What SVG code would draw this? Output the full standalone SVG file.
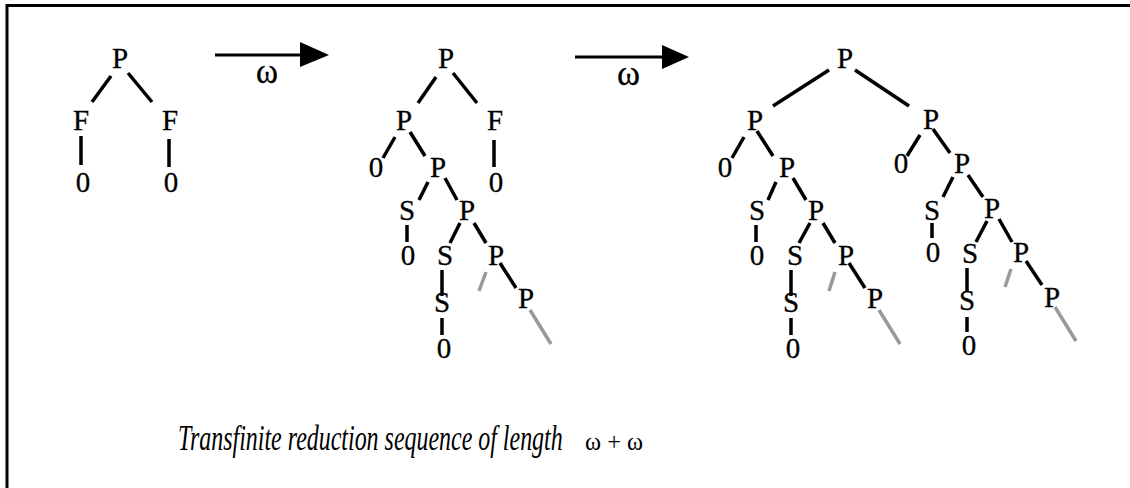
<svg xmlns="http://www.w3.org/2000/svg" width="1130" height="488" viewBox="0 0 1130 488">
<style>
.t{font-family:"Liberation Serif","Times New Roman",serif;font-size:29px;fill:#000;stroke:#000;stroke-width:0.3;text-anchor:middle}
.w{font-family:"Liberation Serif","Times New Roman",serif;font-size:36px;fill:#000;stroke:#000;stroke-width:0.3}
.e{stroke:#000;stroke-width:3.5;fill:none}
.g{stroke:#999;stroke-width:3.5;fill:none}
.a{stroke:#000;stroke-width:3}
</style>
<rect x="0" y="0" width="1130" height="488" fill="#fff"/>
<path d="M7,495 V5.5 H1135" fill="none" stroke="#000" stroke-width="3"/>
<g id="connectors">
<line class="e" x1="111" y1="76" x2="92" y2="102"/>
<line class="e" x1="128" y1="73" x2="152" y2="102"/>
<line class="e" x1="81" y1="136" x2="81" y2="165"/>
<line class="e" x1="169" y1="139" x2="169" y2="167"/>
<line class="e" x1="436" y1="77" x2="418" y2="103"/>
<line class="e" x1="453" y1="73" x2="477" y2="103"/>
<line class="e" x1="395" y1="137" x2="383" y2="158"/>
<line class="e" x1="410" y1="132" x2="425" y2="156"/>
<line class="e" x1="494" y1="140" x2="494" y2="167"/>
<line class="e" x1="428" y1="182" x2="419" y2="200"/>
<line class="e" x1="445" y1="178" x2="457" y2="200"/>
<line class="e" x1="407" y1="225" x2="407" y2="242"/>
<line class="e" x1="460" y1="223" x2="450" y2="243"/>
<line class="e" x1="474" y1="223" x2="486" y2="243"/>
<line class="e" x1="442" y1="270" x2="442" y2="296"/>
<line class="e" x1="442" y1="318" x2="442" y2="335"/>
<line class="g" x1="486" y1="272" x2="479" y2="291"/>
<line class="e" x1="500" y1="263" x2="516" y2="288"/>
<line class="g" x1="530" y1="310" x2="551" y2="344"/>
<line class="e" x1="829" y1="70" x2="773" y2="106"/>
<line class="e" x1="855" y1="70" x2="909" y2="106"/>
<line class="e" x1="744" y1="137" x2="732" y2="158"/>
<line class="e" x1="757" y1="131" x2="773" y2="156"/>
<line class="e" x1="776" y1="182" x2="768" y2="200"/>
<line class="e" x1="793" y1="178" x2="806" y2="200"/>
<line class="e" x1="756" y1="225" x2="756" y2="242"/>
<line class="e" x1="810" y1="223" x2="799" y2="243"/>
<line class="e" x1="823" y1="223" x2="835" y2="243"/>
<line class="e" x1="791" y1="270" x2="791" y2="296"/>
<line class="e" x1="791" y1="318" x2="791" y2="335"/>
<line class="g" x1="835" y1="272" x2="829" y2="291"/>
<line class="e" x1="849" y1="263" x2="865" y2="288"/>
<line class="g" x1="879" y1="310" x2="900" y2="344"/>
<line class="e" x1="920" y1="135" x2="907" y2="156"/>
<line class="e" x1="933" y1="129" x2="950" y2="153"/>
<line class="e" x1="953" y1="177" x2="943" y2="197"/>
<line class="e" x1="968" y1="175" x2="983" y2="197"/>
<line class="e" x1="932" y1="223" x2="932" y2="238"/>
<line class="e" x1="987" y1="221" x2="976" y2="242"/>
<line class="e" x1="999" y1="219" x2="1012" y2="242"/>
<line class="e" x1="967" y1="268" x2="967" y2="292"/>
<line class="e" x1="967" y1="317" x2="967" y2="332"/>
<line class="g" x1="1011" y1="269" x2="1005" y2="287"/>
<line class="e" x1="1026" y1="261" x2="1042" y2="285"/>
<line class="g" x1="1055" y1="307" x2="1076" y2="341"/>
</g>
<g id="arrow1">
<line class="a" x1="215" y1="55" x2="302" y2="55"/>
<polygon points="300,42 329,55 300,67" fill="#000"/>
<text class="w" x="256" y="83" textLength="22" lengthAdjust="spacingAndGlyphs">ω</text>
</g>
<g id="arrow2">
<line class="a" x1="575" y1="57" x2="664" y2="57"/>
<polygon points="662,45 689,57 662,69" fill="#000"/>
<text class="w" x="617" y="85" textLength="23" lengthAdjust="spacingAndGlyphs">ω</text>
</g>
<g id="tree1">
<text class="t" x="120" y="68">P</text>
<text class="t" x="81" y="130">F</text>
<text class="t" x="170" y="130">F</text>
<text class="t" x="83" y="192">0</text>
<text class="t" x="171" y="192">0</text>
</g>
<g id="tree2">
<text class="t" x="446" y="68">P</text>
<text class="t" x="404" y="130">P</text>
<text class="t" x="495" y="130">F</text>
<text class="t" x="376" y="177">0</text>
<text class="t" x="438" y="177">P</text>
<text class="t" x="496" y="192">0</text>
<text class="t" x="407" y="220">S</text>
<text class="t" x="467" y="220">P</text>
<text class="t" x="408" y="265">0</text>
<text class="t" x="445" y="265">S</text>
<text class="t" x="496" y="265">P</text>
<text class="t" x="442" y="312">S</text>
<text class="t" x="444" y="358">0</text>
<text class="t" x="526" y="308">P</text>
</g>
<g id="tree3">
<text class="t" x="845" y="68">P</text>
<text class="t" x="755" y="130">P</text>
<text class="t" x="725" y="177">0</text>
<text class="t" x="787" y="177">P</text>
<text class="t" x="757" y="220">S</text>
<text class="t" x="816" y="220">P</text>
<text class="t" x="757" y="265">0</text>
<text class="t" x="795" y="265">S</text>
<text class="t" x="846" y="265">P</text>
<text class="t" x="791" y="312">S</text>
<text class="t" x="793" y="358">0</text>
<text class="t" x="875" y="308">P</text>
<text class="t" x="931" y="129">P</text>
<text class="t" x="901" y="173">0</text>
<text class="t" x="962" y="173">P</text>
<text class="t" x="932" y="220">S</text>
<text class="t" x="992" y="218">P</text>
<text class="t" x="933" y="262">0</text>
<text class="t" x="970" y="263">S</text>
<text class="t" x="1021" y="262">P</text>
<text class="t" x="967" y="310">S</text>
<text class="t" x="969" y="355">0</text>
<text class="t" x="1052" y="307">P</text>
</g>
<g id="caption">
<text transform="translate(178,450) scale(0.661,1)" x="0" y="0" font-family="'Liberation Serif','Times New Roman',serif" font-style="italic" font-size="36" textLength="582" lengthAdjust="spacingAndGlyphs">Transfinite reduction sequence of length</text>
<text x="585" y="450" font-family="'Liberation Serif','Times New Roman',serif" font-size="25" textLength="58" lengthAdjust="spacingAndGlyphs">ω + ω</text>
</g>
</svg>
